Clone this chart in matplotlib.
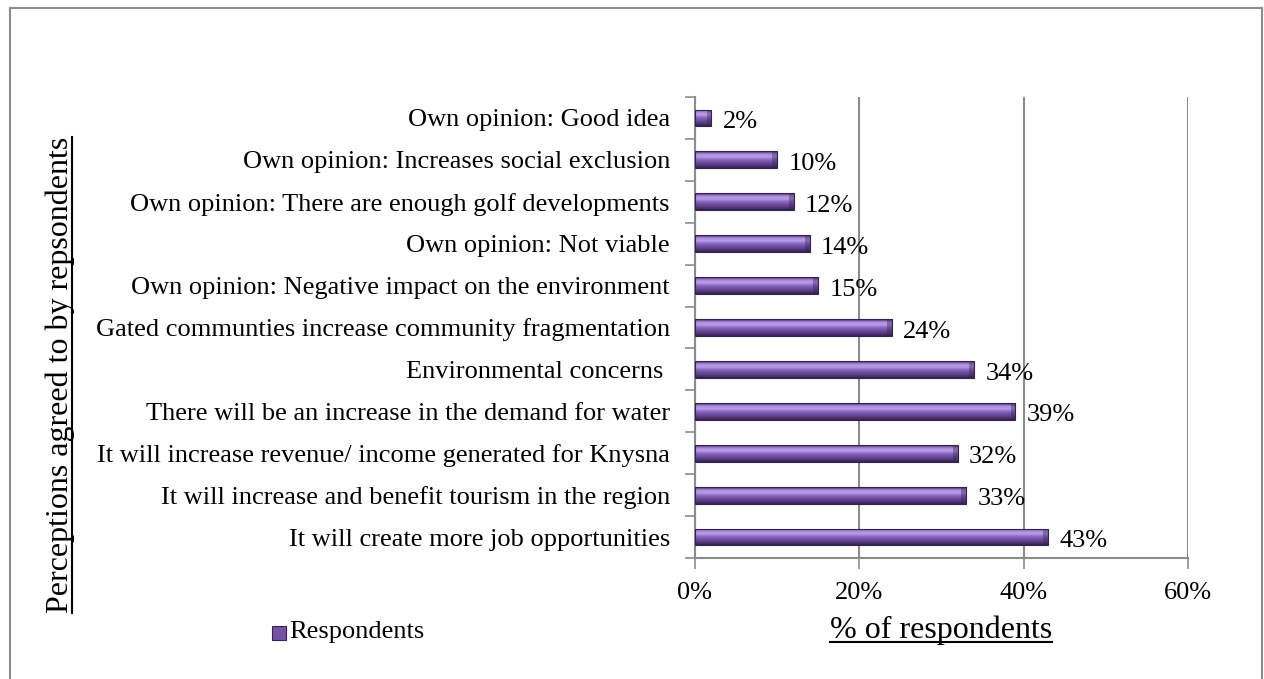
import numpy as np
import matplotlib.pyplot as plt
from matplotlib.colors import LinearSegmentedColormap
from matplotlib.lines import Line2D
from matplotlib.patches import Rectangle

plt.rcParams['font.family'] = ['Liberation Serif', 'DejaVu Serif']

categories = [
    "Own opinion: Good idea",
    "Own opinion: Increases social exclusion",
    "Own opinion: There are enough golf developments",
    "Own opinion: Not viable",
    "Own opinion: Negative impact on the environment",
    "Gated communties increase community fragmentation",
    "Environmental concerns ",
    "There will be an increase in the demand for water",
    "It will increase revenue/ income generated for Knysna",
    "It will increase and benefit tourism in the region",
    "It will create more job opportunities",
]
values = [2, 10, 12, 14, 15, 24, 34, 39, 32, 33, 43]
xticks = [0, 20, 40, 60]
xtick_labels = ["0%", "20%", "40%", "60%"]

W, H = 1264, 679
fig = plt.figure(figsize=(W / 100, H / 100), dpi=100)
fig.patch.set_facecolor("white")

# outer frame
for (x0, y0, x1, y1) in [(10, 8, 1262, 8), (10, 8, 10, 679), (1262, 8, 1262, 679)]:
    fig.add_artist(Line2D([x0 / W, x1 / W], [1 - y0 / H, 1 - y1 / H],
                          color="#8c8c8c", lw=1.5, transform=fig.transFigure))

ax = fig.add_axes([695 / W, 1 - 558 / H, (1188 - 695) / W, (558 - 97) / H])

n = len(categories)
pos = np.arange(n)
bars = ax.barh(pos, values, height=0.4, color="#7452a8", edgecolor="none", zorder=3)

# shaded look for the bars: dark rim, light band, darker base
shade = LinearSegmentedColormap.from_list(
    "shade", ["#3f2a61", "#a98bdc", "#bb9deb", "#8a69c0", "#6f4ea3", "#553a80", "#35234f"])
grad = np.linspace(0, 1, 64).reshape(-1, 1)
for b in bars:
    x0, y0 = b.get_x(), b.get_y()
    w, h = b.get_width(), b.get_height()
    im = ax.imshow(grad, cmap=shade, aspect="auto", origin="upper",
                   extent=[x0, x0 + w, y0 + h, y0], zorder=4, interpolation="bilinear")
    im.set_clip_path(b)
    # bevelled end cap
    cap = min(0.6, w * 0.3)
    ax.add_patch(Rectangle((x0 + w - cap, y0), cap, h, facecolor="#35234f",
                           alpha=0.4, edgecolor="none", zorder=5))
    ax.add_patch(Rectangle((x0, y0), w, h, facecolor="none",
                           edgecolor="#35234f", lw=0.8, zorder=6))

for p, v in zip(pos, values):
    ax.annotate(f"{v}%", (v, p), xytext=(8, -3), textcoords="offset points",
                ha="left", va="center", fontsize=19, zorder=7)

ax.set_xlim(0, 60)
ax.set_ylim(n - 0.5, -0.5)
ax.set_xticks(xticks)
ax.set_xticklabels(xtick_labels, fontsize=19)
ax.set_yticks(pos)
ax.set_yticklabels(categories, fontsize=19)
ax.tick_params(axis="y", length=0, pad=18)
ax.tick_params(axis="x", length=8, width=1.2, color="#8c8c8c", pad=9, direction="out")

# category separator ticks on the left
ax.set_yticks(np.arange(-0.5, n, 1), minor=True)
ax.tick_params(axis="y", which="minor", length=7, width=1.2, color="#8c8c8c", direction="out")

ax.grid(axis="x", color="#8c8c8c", lw=1.5, zorder=0)
ax.set_axisbelow(True)
for s in ["top", "right"]:
    ax.spines[s].set_visible(False)
for s in ["left", "bottom"]:
    ax.spines[s].set_color("#8c8c8c")
    ax.spines[s].set_linewidth(1.5)

# axis titles with underline
ylab = fig.text(60 / W, 1 - 375 / H, "Perceptions agreed to by repsondents",
                rotation=90, ha="center", va="center", fontsize=23)
xlab = fig.text(941 / W, 1 - 630 / H, "% of respondents",
                ha="center", va="center", fontsize=23)

# legend entry
fig.add_artist(Rectangle((272 / W, 1 - 640 / H), 14 / W, 14 / H, facecolor="#7452a8",
                         edgecolor="#35234f", lw=0.8, transform=fig.transFigure))
fig.text(289 / W, 1 - 632 / H, "Respondents", ha="left", va="center", fontsize=19)

fig.canvas.draw()
r = fig.canvas.get_renderer()
inv = fig.transFigure.inverted()
bb = xlab.get_window_extent(r)
(a0, b0), (a1, b1) = inv.transform([(bb.x0, bb.y0 + 3), (bb.x1, bb.y0 + 3)])
fig.add_artist(Line2D([a0, a1], [b0, b1], color="black", lw=1.5, transform=fig.transFigure))
bb = ylab.get_window_extent(r)
(a0, b0), (a1, b1) = inv.transform([(bb.x1 - 3, bb.y0), (bb.x1 - 3, bb.y1)])
fig.add_artist(Line2D([a0, a1], [b0, b1], color="black", lw=1.5, transform=fig.transFigure))

fig.savefig("out.png", dpi=100)
